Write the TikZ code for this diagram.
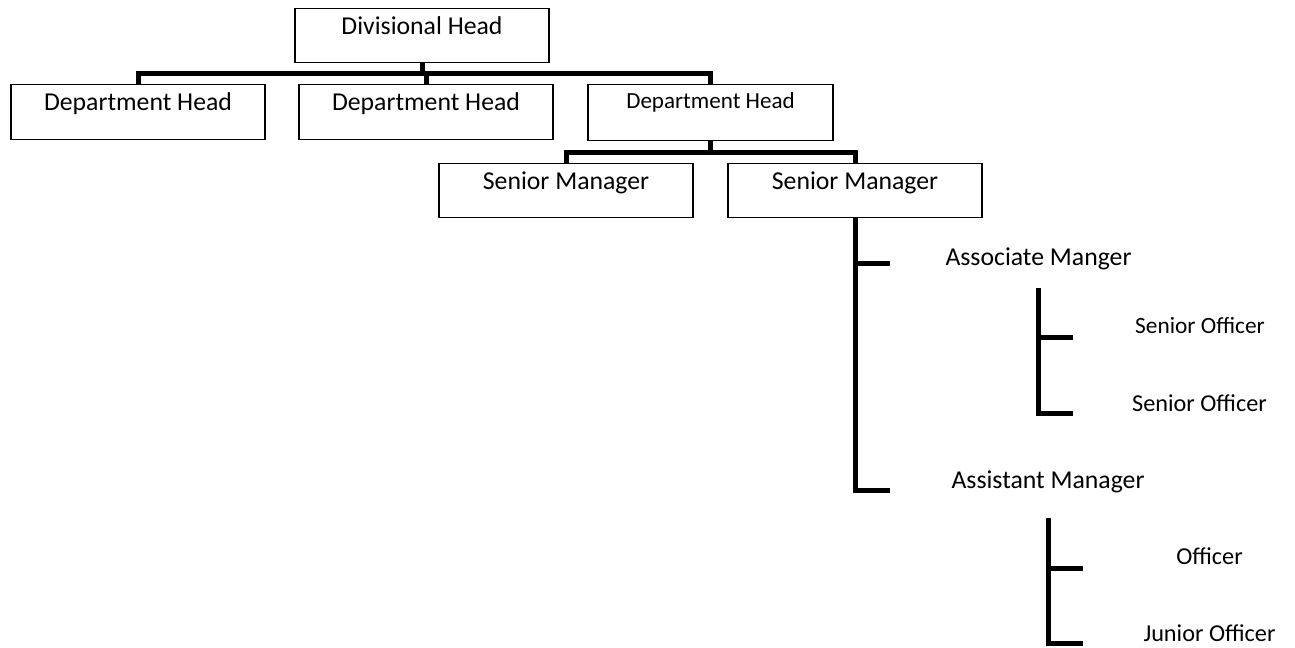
\documentclass[tikz,border=0pt]{standalone}
\usepackage{fontspec}
\setmainfont{Carlito}
\begin{document}
\begin{tikzpicture}[x=0.75pt,y=-0.75pt,
  box/.style={draw, line width=1pt, inner xsep=0pt, inner ysep=0pt, anchor=north,
    text height=19.5pt, text depth=21pt, minimum width=190.5pt,
    font=\fontsize{19.3}{23}\selectfont},
  bigtext/.style={inner sep=0pt, anchor=base, font=\fontsize{19.3}{23}\selectfont},
  smalltext/.style={inner sep=0pt, anchor=base, font=\fontsize{18.2}{22}\selectfont},
  conn/.style={line width=3.75pt, line join=miter, line cap=butt}]
\useasboundingbox (0,0) rectangle (1295,647);
% boxes
\node[box] (div) at (422,8) {Divisional Head};
\node[box, text depth=21.75pt] (dh1) at (138,84) {Department Head};
\node[box, text depth=21.75pt] (dh2) at (426,84) {Department Head};
\node[box, minimum width=183.75pt, text height=18pt, text depth=24pt,
      font=\fontsize{17.3}{21}\selectfont] (dh3) at (710.5,84) {Department Head};
\node[box] (sm1) at (566,163) {Senior Manager};
\node[box] (sm2) at (855,163) {Senior Manager};
% free labels
\node[bigtext] (am) at (1038.5,265) {Associate Manger};
\node[smalltext, font=\fontsize{17.5}{21}\selectfont] (so1) at (1200,333) {Senior Officer};
\node[smalltext] (so2) at (1199.5,411) {Senior Officer};
\node[bigtext] (as) at (1048,488) {Assistant Manager};
\node[smalltext] (of) at (1209.5,564) {Officer};
\node[smalltext] (jo) at (1209.5,641) {Junior Officer};
% bus coordinates
\coordinate (bus1) at (0,73.5);
\coordinate (bus2) at (0,152);
\coordinate (am-in) at (890,263);
\coordinate (as-in) at (890,490);
\coordinate (am-out) at (1038,288);
\coordinate (so1-in) at (1073,337);
\coordinate (so2-in) at (1073,413);
\coordinate (as-out) at (1048,518);
\coordinate (of-in) at (1083,568);
\coordinate (jo-in) at (1083,643);
% connectors
\draw[conn] (div.south) -- (div.south |- bus1);
\draw[conn] (dh1.north) -- (dh1.north |- bus1) -- (dh3.north |- bus1) -- (dh3.north);
\draw[conn] (dh2.north) -- (dh2.north |- bus1);
\draw[conn] (dh3.south) -- (dh3.south |- bus2);
\draw[conn] (sm1.north) -- (sm1.north |- bus2) -- (sm2.north |- bus2) -- (sm2.north);
\draw[conn] (sm2.south) |- (as-in);
\draw[conn] (sm2.south |- am-in) -- (am-in);
\draw[conn] (am-out) |- (so2-in);
\draw[conn] (am-out |- so1-in) -- (so1-in);
\draw[conn] (as-out) |- (jo-in);
\draw[conn] (as-out |- of-in) -- (of-in);
\end{tikzpicture}
\end{document}
